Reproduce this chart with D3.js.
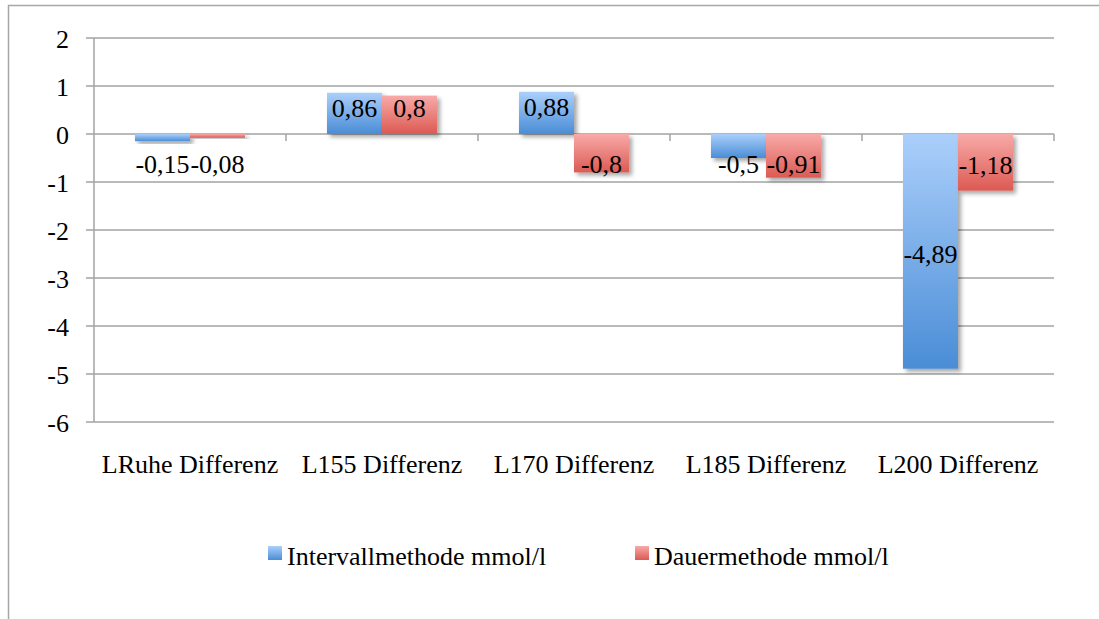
<!DOCTYPE html>
<html>
<head>
<meta charset="utf-8">
<script src="https://cdn.jsdelivr.net/npm/d3@7"></script>
<style>
  html, body { margin: 0; padding: 0; background: #fff; }
  svg { display: block; }
  text { font-family: "Liberation Serif", "Times New Roman", serif; fill: #000; }
</style>
</head>
<body>
<svg id="chart" width="1099" height="619"></svg>
<script>
// Lactate differences per stage, two training methods
const categories = ["LRuhe Differenz", "L155 Differenz", "L170 Differenz", "L185 Differenz", "L200 Differenz"];
const seriesNames = ["Intervallmethode mmol/l", "Dauermethode mmol/l"];
const intervallValues = [-0.15, 0.86, 0.88, -0.5, -4.89];
const dauerValues = [-0.08, 0.8, -0.8, -0.91, -1.18];
const yTicks = [2, 1, 0, -1, -2, -3, -4, -5, -6];

const W = 1099, H = 619;
const plot = { left: 94, right: 1054, top: 38, bottom: 422 };
const fontSize = 26;

const svg = d3.select("#chart");
const defs = svg.append("defs");

// Vertical gradients for the two series
const gradients = [
  { id: "gradBlue", top: "#abcffb", bottom: "#4a8dd6" },
  { id: "gradRed", top: "#f8aaa8", bottom: "#dc5a53" }
];
gradients.forEach(g => {
  const lg = defs.append("linearGradient").attr("id", g.id)
    .attr("x1", 0).attr("y1", 0).attr("x2", 0).attr("y2", 1);
  lg.append("stop").attr("offset", "0%").attr("stop-color", g.top);
  lg.append("stop").attr("offset", "100%").attr("stop-color", g.bottom);
});

const shadow = defs.append("filter").attr("id", "barShadow")
  .attr("x", "-20%").attr("y", "-20%").attr("width", "150%").attr("height", "150%");
shadow.append("feDropShadow").attr("dx", 3).attr("dy", 3)
  .attr("stdDeviation", 2).attr("flood-color", "#000").attr("flood-opacity", 0.35);

// Outer frame
svg.append("rect")
  .attr("x", 8.5).attr("y", 5.5).attr("width", W + 20).attr("height", H + 20)
  .attr("fill", "none").attr("stroke", "#a6a6a6").attr("stroke-width", 1.5);

const y = d3.scaleLinear().domain([-6, 2]).range([plot.bottom, plot.top]);
const x0 = d3.scaleBand().domain(categories).range([plot.left, plot.right]);
const groupWidth = x0.bandwidth() * 0.573;
const x1 = d3.scaleBand().domain(seriesNames).range([-groupWidth / 2, groupWidth / 2]);

const gridColor = "#a3a3a3";

// Horizontal gridlines with left tick marks
svg.append("g").selectAll("line").data(yTicks).join("line")
  .attr("x1", plot.left - 8).attr("x2", plot.right)
  .attr("y1", d => y(d)).attr("y2", d => y(d))
  .attr("stroke", gridColor).attr("stroke-width", 1.5);

// Y tick labels
svg.append("g").selectAll("text").data(yTicks).join("text")
  .attr("x", 69).attr("y", d => y(d) + 10)
  .attr("text-anchor", "end").attr("font-size", fontSize)
  .text(d => d);

// Category boundary ticks on the zero line
const boundaries = categories.map(c => x0(c) + x0.bandwidth()).slice(0, -1).concat([plot.right]);
svg.append("g").selectAll("line").data(boundaries).join("line")
  .attr("x1", d => d).attr("x2", d => d)
  .attr("y1", y(0)).attr("y2", y(0) + 7)
  .attr("stroke", gridColor).attr("stroke-width", 1.5);

// Bars
const rows = [];
categories.forEach((c, i) => {
  rows.push({ cat: c, series: seriesNames[0], value: intervallValues[i], fill: "url(#gradBlue)" });
  rows.push({ cat: c, series: seriesNames[1], value: dauerValues[i], fill: "url(#gradRed)" });
});

const barX = d => x0(d.cat) + x0.bandwidth() / 2 + x1(d.series);
svg.append("g").selectAll("rect").data(rows).join("rect")
  .attr("x", barX)
  .attr("width", x1.bandwidth())
  .attr("y", d => Math.min(y(d.value), y(0)))
  .attr("height", d => Math.abs(y(d.value) - y(0)))
  .attr("fill", d => d.fill)
  .attr("filter", "url(#barShadow)");

// Vertical axis line
svg.append("line")
  .attr("x1", plot.left).attr("x2", plot.left)
  .attr("y1", plot.top).attr("y2", plot.bottom)
  .attr("stroke", gridColor).attr("stroke-width", 1.5);

// Value labels, centred in the bar but kept on the bar's side of zero
const fmt = d3.formatLocale({ decimal: ",", thousands: ".", grouping: [3], currency: ["", "€"], minus: "-" }).format(".3~g");
svg.append("g").selectAll("text").data(rows).join("text")
  .attr("x", d => barX(d) + x1.bandwidth() / 2)
  .attr("y", d => {
    const mid = (y(d.value) + y(0)) / 2;
    return d.value < 0 ? Math.max(mid + 11.5, y(0) + 38.5) : Math.min(mid + 3.5, y(0) - 17.3);
  })
  .attr("text-anchor", "middle").attr("font-size", fontSize)
  .text(d => fmt(d.value));

// Category labels
svg.append("g").selectAll("text").data(categories).join("text")
  .attr("x", d => x0(d) + x0.bandwidth() / 2).attr("y", 473)
  .attr("text-anchor", "middle").attr("font-size", fontSize)
  .text(d => d);

// Legend
const legendItems = [
  { name: seriesNames[0], fill: "url(#gradBlue)", x: 268 },
  { name: seriesNames[1], fill: "url(#gradRed)", x: 635 }
];
const lg = svg.append("g").selectAll("g").data(legendItems).join("g")
  .attr("transform", d => `translate(${d.x},546)`);
lg.append("rect").attr("width", 14).attr("height", 14).attr("fill", d => d.fill);
lg.append("text").attr("x", 19).attr("y", 19).attr("font-size", fontSize).text(d => d.name);
</script>
</body>
</html>
